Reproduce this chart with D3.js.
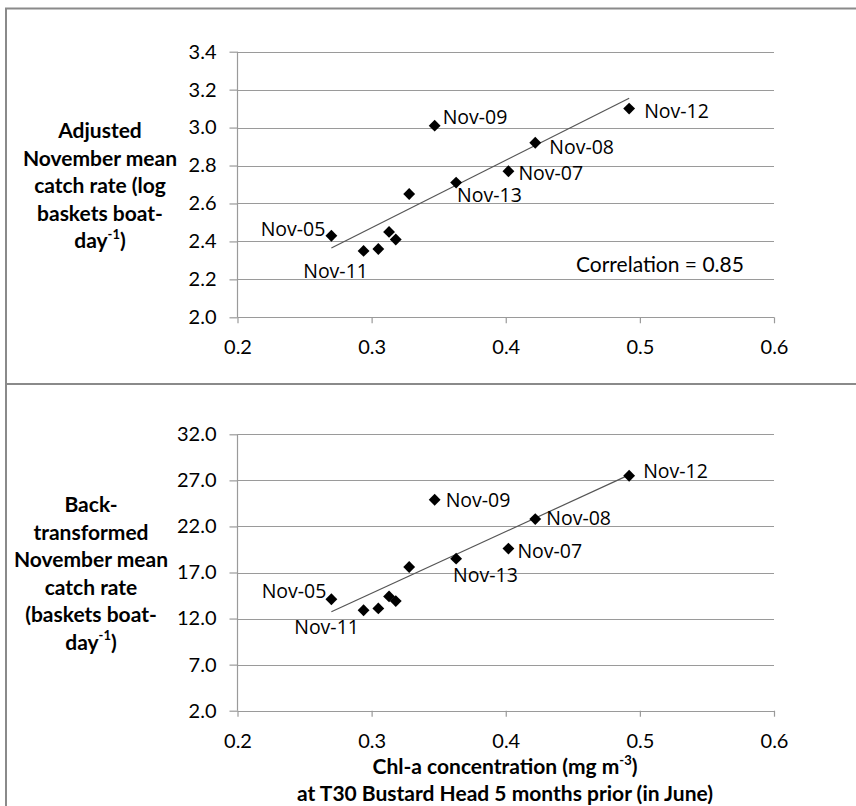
<!DOCTYPE html>
<html>
<head>
<meta charset="utf-8">
<script src="https://cdn.jsdelivr.net/npm/d3@7"></script>
<style>
  body { margin: 0; background: #fff; }
  svg { display: block; }
  .tick text { font-family: Lato, sans-serif; font-size: 20px; fill: #000; }
  .axisTitle { font-family: Lato, sans-serif; font-size: 21px; font-weight: bold; fill: #000; }
  .ptLabel { font-family: "Open Sans", sans-serif; font-size: 19.5px; fill: #000; }
</style>
</head>
<body>
<div id="chart"></div>
<script>
// data
var pointNames = ["Nov-05", "Nov-11", "", "", "", "", "Nov-09", "Nov-13", "Nov-07", "Nov-08", "Nov-12"];
var chlValues = [0.270, 0.294, 0.305, 0.313, 0.318, 0.328, 0.347, 0.363, 0.402, 0.422, 0.492];
var logRate = [2.43, 2.35, 2.36, 2.45, 2.41, 2.65, 3.01, 2.71, 2.77, 2.92, 3.10];
var backRate = [14.1, 12.9, 13.1, 14.4, 13.9, 17.6, 24.9, 18.5, 19.6, 22.8, 27.5];

var xTicks = [0.2, 0.3, 0.4, 0.5, 0.6];
var topTicks = [2.0, 2.2, 2.4, 2.6, 2.8, 3.0, 3.2, 3.4];
var bottomTicks = [2, 7, 12, 17, 22, 27, 32];
var correlationText = "Correlation = 0.85";

// label placement (pixel offsets from the marker)
var topLabelPos = [[-6, -7, "end"], [-28, 20, "middle"], null, null, null, null,
    [8, -9, "start"], [1, 12, "start"], [10, 2, "start"], [14, 4, "start"], [15, 2, "start"]];
var bottomLabelPos = [[-5, -8, "end"], [-37, 17, "middle"], null, null, null, null,
    [11, 0, "start"], [-3, 16, "start"], [9, 2, "start"], [11, -1, "start"], [14, -5, "start"]];

var svgWidth = 856;
var svgHeight = 806;

var svg = d3.select("#chart")
    .append("svg")
    .attr("width", svgWidth)
    .attr("height", svgHeight);

// panel frames
svg.append("path")
    .attr("d", "M6,390V8.5H860")
    .attr("fill", "none")
    .attr("stroke", "#8a8a8a")
    .attr("stroke-width", 2);
svg.append("path")
    .attr("d", "M6,820V384H860")
    .attr("fill", "none")
    .attr("stroke", "#8a8a8a")
    .attr("stroke-width", 2);

var xScale = d3.scaleLinear().domain([0.2, 0.6]).range([237.5, 774]);

var diamond = d3.symbol().type(d3.symbolSquare).size(70);

function drawPanel(values, yScale, ticks, fmt, labelPos, titleLines, titleX, titleY) {
    var g = svg.append("g");
    var x0 = xScale.range()[0], x1 = xScale.range()[1];

    // gridlines
    g.append("g").selectAll("line")
        .data(ticks)
        .enter()
        .append("line")
        .attr("x1", x0)
        .attr("x2", x1)
        .attr("y1", d => Math.round(yScale(d)) + 0.5)
        .attr("y2", d => Math.round(yScale(d)) + 0.5)
        .attr("stroke", "#9a9a9a")
        .attr("stroke-width", 1.2);

    // axes
    var leftAxis = d3.axisLeft(yScale).tickValues(ticks).tickFormat(fmt).tickSize(8).tickPadding(13);
    var bottomAxis = d3.axisBottom(xScale).tickValues(xTicks).tickFormat(d3.format(".1f")).tickSize(6).tickPadding(17);

    var ly = g.append("g")
        .attr("transform", `translate(${x0},0)`)
        .call(leftAxis);
    var bx = g.append("g")
        .attr("transform", `translate(0,${yScale.range()[0]})`)
        .call(bottomAxis);
    [ly, bx].forEach(function(a) {
        a.selectAll("path, line").attr("stroke", "#9a9a9a").attr("stroke-width", 1.2);
        a.select(".domain").attr("d", null);
    });
    g.append("line")
        .attr("x1", x0).attr("x2", x0)
        .attr("y1", yScale.range()[1]).attr("y2", yScale.range()[0])
        .attr("stroke", "#9a9a9a").attr("stroke-width", 1.2);

    // linear trend (least squares)
    var mx = d3.mean(chlValues), my = d3.mean(values);
    var sxy = d3.sum(chlValues, (v, i) => (v - mx) * (values[i] - my));
    var sxx = d3.sum(chlValues, v => (v - mx) * (v - mx));
    var slope = sxy / sxx, icpt = my - slope * mx;
    var ext = d3.extent(chlValues);
    g.append("line")
        .attr("x1", xScale(ext[0]))
        .attr("y1", yScale(icpt + slope * ext[0]))
        .attr("x2", xScale(ext[1]))
        .attr("y2", yScale(icpt + slope * ext[1]))
        .attr("stroke", "#555")
        .attr("stroke-width", 1.2);

    // markers
    g.append("g").selectAll("path")
        .data(chlValues)
        .enter()
        .append("path")
        .attr("d", diamond)
        .attr("transform", (d, i) => `translate(${xScale(d)},${yScale(values[i])}) rotate(45)`)
        .attr("fill", "#000");

    // point labels
    var idx = d3.range(chlValues.length).filter(i => pointNames[i] !== "");
    g.append("g").selectAll("text")
        .data(idx)
        .enter()
        .append("text")
        .attr("class", "ptLabel")
        .attr("x", i => xScale(chlValues[i]) + labelPos[i][0])
        .attr("y", i => yScale(values[i]) + labelPos[i][1])
        .attr("dy", "0.36em")
        .attr("text-anchor", i => labelPos[i][2])
        .text(i => pointNames[i]);

    // y title
    var t = g.append("text")
        .attr("class", "axisTitle")
        .attr("text-anchor", "middle");
    titleLines.forEach(function(line, i) {
        var ts = t.append("tspan")
            .attr("x", titleX)
            .attr("y", titleY + i * 27.5)
            .attr("dy", "0.35em");
        if (line.indexOf("^") >= 0) {
            var parts = line.split("^");
            ts.append("tspan").text(parts[0]);
            ts.append("tspan").attr("font-size", "13px").attr("dy", "-0.75em").text("-1");
            ts.append("tspan").attr("dy", "0.45em").text(parts[1]);
        } else {
            ts.text(line);
        }
    });
    return g;
}

var yTop = d3.scaleLinear().domain([2.0, 3.4]).range([317.3, 51.7]);
var yBottom = d3.scaleLinear().domain([2, 32]).range([710.7, 434.3]);

var topPanel = drawPanel(logRate, yTop, topTicks, d3.format(".1f"), topLabelPos,
    ["Adjusted", "November mean", "catch rate (log", "baskets boat-", "day^)"], 100, 131);

topPanel.append("text")
    .attr("x", 576)
    .attr("y", 264)
    .attr("dy", "0.36em")
    .style("font-family", "Lato, sans-serif")
    .style("font-size", "21px")
    .attr("fill", "#000")
    .text(correlationText);

drawPanel(backRate, yBottom, bottomTicks, d3.format(".1f"), bottomLabelPos,
    ["Back-", "transformed", "November mean", "catch rate", "(baskets boat-", "day^)"], 91, 505);

// x title
var xt = svg.append("text")
    .attr("class", "axisTitle")
    .attr("text-anchor", "middle");
var l1 = xt.append("tspan").attr("x", 505).attr("y", 767).attr("dy", "0.35em");
l1.append("tspan").text("Chl-a concentration (mg m");
l1.append("tspan").attr("font-size", "13px").attr("dy", "-0.75em").text("-3");
l1.append("tspan").attr("dy", "0.45em").text(")");
xt.append("tspan").attr("x", 505).attr("y", 794).attr("dy", "0.35em")
    .text("at T30 Bustard Head 5 months prior (in June)");
</script>
</body>
</html>
